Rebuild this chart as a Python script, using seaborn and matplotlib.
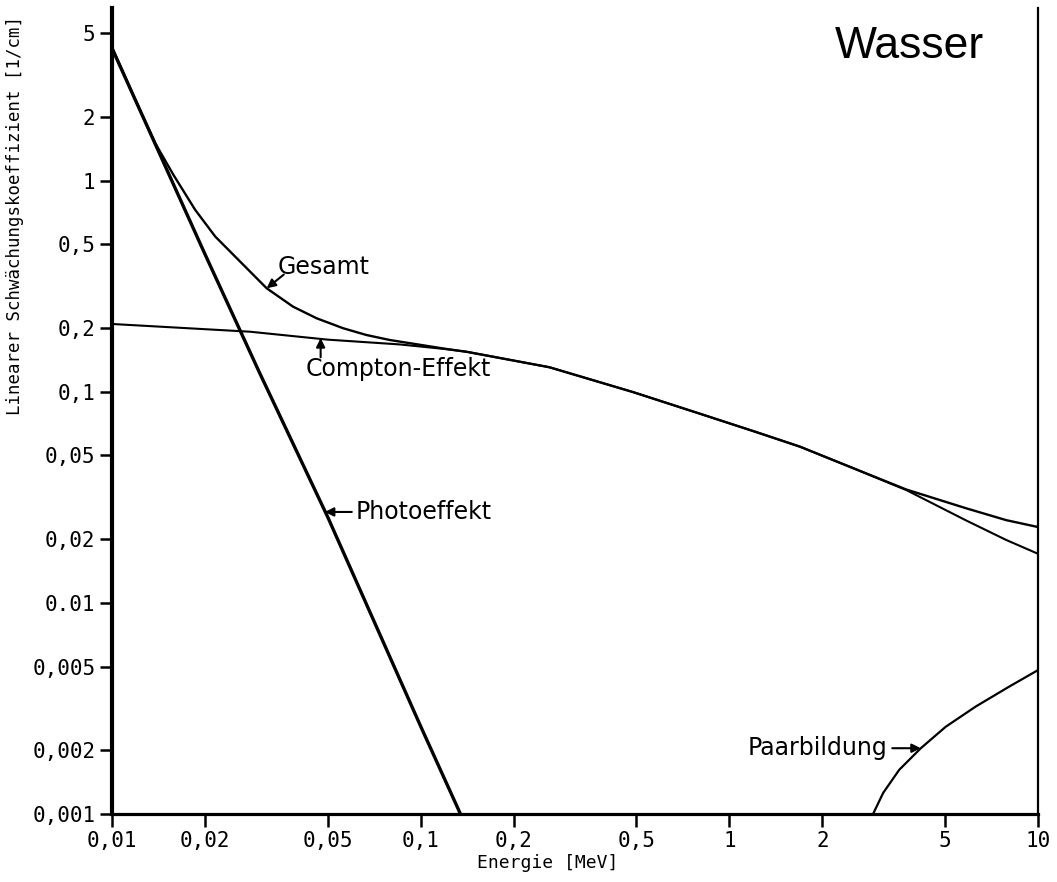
import numpy as np
import pandas as pd
import matplotlib
matplotlib.use("Agg")
import matplotlib.pyplot as plt
import seaborn as sns

# ---- data (Energie in MeV, mu in 1/cm) ----
photo_E = [0.01, 0.02, 0.03, 0.05, 0.1, 0.1345]
photo_mu = [4.25, 0.45, 0.124, 0.0255, 0.0026, 0.001]

compton_E = [0.01, 0.028, 0.05, 0.0855, 0.124, 0.141, 0.261, 0.486, 0.8, 1.22, 1.69, 2.445, 3.74, 5.85, 7.88, 10]
compton_mu = [0.21, 0.193, 0.177, 0.168, 0.159, 0.155, 0.131, 0.100, 0.079, 0.0646, 0.0551, 0.0443, 0.0343, 0.0246, 0.0199, 0.0171]

total_E = [0.01, 0.0119, 0.0138, 0.0158, 0.0186, 0.0216, 0.0257, 0.0317, 0.0386, 0.046, 0.0561, 0.0667, 0.0794, 0.124,
           0.141, 0.261, 0.486, 0.8, 1.22, 1.69, 2.445, 3.74, 5.85, 7.88, 10]
total_mu = [4.3, 2.42, 1.51, 1.07, 0.729, 0.545, 0.422, 0.310, 0.2536, 0.2235, 0.2004, 0.1862, 0.1763, 0.159,
            0.155, 0.131, 0.100, 0.079, 0.0646, 0.0551, 0.0443, 0.0345, 0.0281, 0.0247, 0.0229]

pair_E = [2.92, 3.15, 3.55, 4.17, 5.02, 6.28, 8.05, 10]
pair_mu = [0.001, 0.00126, 0.00162, 0.00205, 0.00259, 0.00323, 0.00401, 0.00481]

x_ticks = [0.01, 0.02, 0.05, 0.1, 0.2, 0.5, 1, 2, 5, 10]
x_labels = ["0,01", "0,02", "0,05", "0,1", "0,2", "0,5", "1", "2", "5", "10"]
y_ticks = [0.001, 0.002, 0.005, 0.01, 0.02, 0.05, 0.1, 0.2, 0.5, 1, 2, 5]
y_labels = ["0,001", "0,002", "0,005", "0.01", "0,02", "0,05", "0,1", "0,2", "0,5", "1", "2", "5"]

sns.set_theme(style="white")
plt.rcParams["font.family"] = ["DejaVu Sans"]

fig = plt.figure(figsize=(10.57, 8.82), dpi=100)
ax = fig.add_axes([0.1060, 0.0771, 0.8761, 0.9138])

series = [
    (photo_E, photo_mu, 2.4),
    (compton_E, compton_mu, 1.5),
    (total_E, total_mu, 1.7),
    (pair_E, pair_mu, 1.6),
]
for E, mu, lw in series:
    df = pd.DataFrame({"E": E, "mu": mu})
    sns.lineplot(data=df, x="E", y="mu", ax=ax, color="black", lw=lw,
                 estimator=None, sort=False)

ax.set_xscale("log")
ax.set_yscale("log")
ax.set_xlim(0.01, 10)
ax.set_ylim(0.001, 6.6)
ax.set_xticks(x_ticks)
ax.set_xticklabels(x_labels)
ax.set_yticks(y_ticks)
ax.set_yticklabels(y_labels)
ax.minorticks_off()

mono = "DejaVu Sans Mono"
for lab in ax.get_xticklabels() + ax.get_yticklabels():
    lab.set_fontfamily(mono)
    lab.set_fontsize(15)
    lab.set_color("black")

ax.tick_params(axis="both", which="major", direction="out", length=9, width=1.8,
               color="black", pad=3, left=True, bottom=True)

ax.spines["top"].set_visible(False)
ax.spines["left"].set_linewidth(3.0)
ax.spines["bottom"].set_linewidth(2.3)
ax.spines["right"].set_linewidth(1.6)
for s in ["left", "bottom", "right"]:
    ax.spines[s].set_color("black")

ax.set_xlabel("Energie [MeV]", fontfamily=mono, fontsize=13, color="black")
ax.set_ylabel("Linearer Schwächungskoeffizient [1/cm]", fontfamily=mono,
              fontsize=12.5, color="black")
ax.xaxis.set_label_coords(0.47, -0.05)
ax.yaxis.set_label_coords(-0.095, 0.743)

arrow = dict(arrowstyle="-|>", color="black", lw=1.5, mutation_scale=13,
             shrinkA=0, shrinkB=0)
afont = dict(fontfamily="DejaVu Sans", fontsize=17, color="black")

# Gesamt
ax.annotate("", xy=(0.0317, 0.310), xytext=(0.036, 0.36), arrowprops=arrow)
ax.text(0.0345, 0.39, "Gesamt", ha="left", va="center", **afont)
# Compton
ax.annotate("", xy=(0.0474, 0.180), xytext=(0.0474, 0.146), arrowprops=arrow)
ax.text(0.0849, 0.128, "Compton-Effekt", ha="center", va="center", **afont)
# Photo
ax.annotate("", xy=(0.0489, 0.027), xytext=(0.0598, 0.027), arrowprops=arrow)
ax.text(0.0614, 0.027, "Photoeffekt", ha="left", va="center", **afont)
# Paar
ax.annotate("", xy=(4.17, 0.00205), xytext=(3.37, 0.00205), arrowprops=arrow)
ax.text(3.24, 0.00205, "Paarbildung", ha="right", va="center", **afont)

ax.text(0.861, 0.952, "Wasser", transform=ax.transAxes, ha="center", va="center",
        fontfamily="Liberation Sans", fontsize=32, color="black")

fig.savefig("out.png", dpi=100, facecolor="white")
